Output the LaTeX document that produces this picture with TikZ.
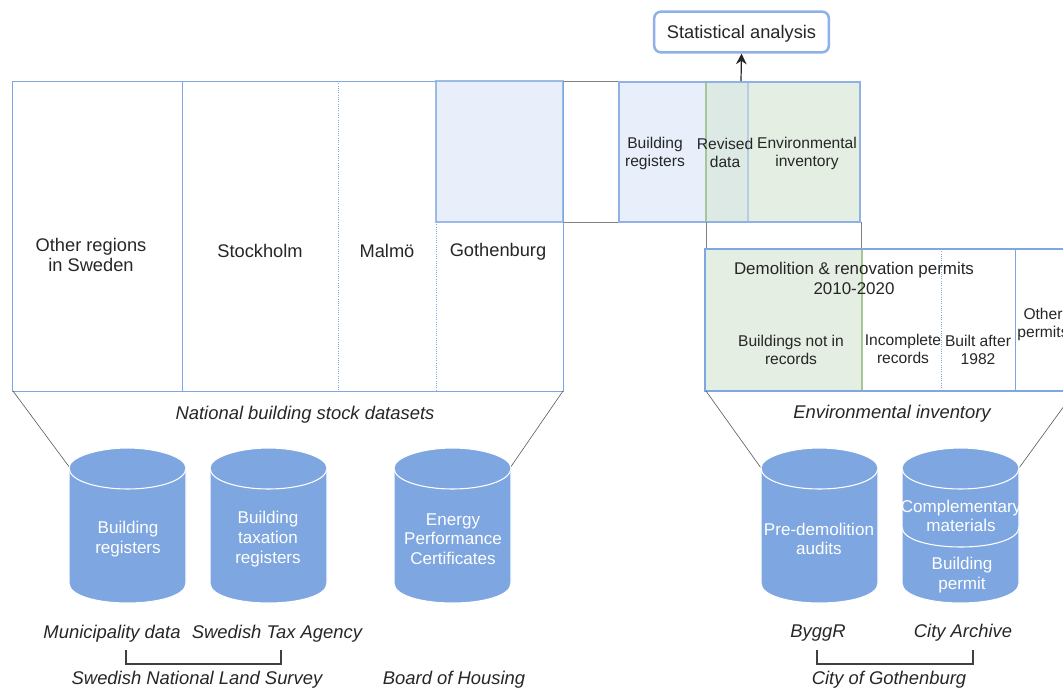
\documentclass[tikz,border=0pt]{standalone}
\usepackage{fontspec}
\setmainfont{Liberation Sans}
\usetikzlibrary{arrows.meta}
\definecolor{bluest}{HTML}{7EA6E0}
\definecolor{bluethick}{HTML}{8FB1E6}
\definecolor{bluefill}{HTML}{E8EFFB}
\definecolor{greenst}{HTML}{A3C795}
\definecolor{greenfill}{HTML}{E4EEE2}
\definecolor{overlapfill}{HTML}{DCE9E4}
\definecolor{ink}{HTML}{262626}
\definecolor{rulegray}{HTML}{808080}
\tikzset{
  bigtext/.style={font=\fontsize{13.7pt}{15.5pt}\selectfont,text=ink,align=center,inner sep=0pt},
  midtext/.style={font=\fontsize{12.7pt}{15pt}\selectfont,text=ink,align=center,inner sep=0pt},
  smalltext/.style={font=\fontsize{11.7pt}{13.5pt}\selectfont,text=ink,align=center,inner sep=0pt},
  captext/.style={font=\fontsize{13.8pt}{15pt}\itshape\selectfont,text=ink,align=center,inner sep=0pt},
  cyltext/.style={font=\fontsize{12.8pt}{14.8pt}\selectfont,text=white,align=center,inner sep=0pt},
  thinblue/.style={draw=bluest,line width=0.7pt},
  dotblue/.style={draw=bluest,line width=0.7pt,densely dotted},
  linkline/.style={draw=rulegray,line width=0.7pt},
  funnel/.style={draw=black!65,line width=0.45pt},
  bracket/.style={draw=black!75,line width=0.8pt},
  cylbody/.style={fill=bluest,draw=white,line width=0.8pt},
}
\newcommand{\drawcyl}[1]{%
  \draw[cylbody] (#1,468) -- (#1+117,468) -- (#1+117,583)
     .. controls (#1+117,596) and (#1+88,603) .. (#1+58.5,603)
     .. controls (#1+29,603) and (#1,596) .. (#1,583) -- cycle;
  \draw[cylbody] (#1,468) .. controls (#1,457) and (#1+29,448) .. (#1+58.5,448)
     .. controls (#1+88,448) and (#1+117,457) .. (#1+117,468)
     .. controls (#1+117,481) and (#1+88,489) .. (#1+58.5,489)
     .. controls (#1+29,489) and (#1,481) .. (#1,468) -- cycle;
}
\begin{document}
\begin{tikzpicture}[x=0.75pt,y=-0.75pt]
\useasboundingbox (0,0) rectangle (1063,690);
\clip (0,0) rectangle (1063,690);
% named corners
\coordinate (bigBL) at (13,391);
\coordinate (bigBR) at (563,391);
\coordinate (envBL) at (706,391);
\coordinate (envBR) at (1075,391);
\coordinate (cylA) at (70,468);
\coordinate (cylC) at (510,468);
\coordinate (cylD) at (761,468);
\coordinate (cylE) at (1019,468);
% national stock
\draw[thinblue] (12.5,81.5) rectangle (563.5,391.5);
\draw[thinblue] (182.5,81.5) -- (182.5,391.5);
\draw[dotblue] (338,81) -- (338,391);
\draw[dotblue] (436,222) -- (436,391);
\draw[linkline] (563,81) -- (619,81) (563,222) -- (619,222);
\fill[bluefill] (436,81) rectangle (563,222);
\draw[draw=bluest,line width=0.9pt,draw opacity=.75] (436,81) rectangle (563,222);
% combined box
\fill[bluefill] (619,82) rectangle (706,222);
\fill[overlapfill] (706,82) rectangle (748,222);
\fill[greenfill] (748,82) rectangle (861,222);
\draw[draw=greenst,line width=1.3pt] (706,82) -- (706,222);
\draw[draw=bluest!45!greenfill,line width=1.1pt] (748,82) -- (748,222);
\draw[draw=bluethick,line width=1.9pt] (619,82) rectangle (860,222);
\draw[linkline] (706,222) -- (706,249) (861,222) -- (861,249);
% environmental inventory
\fill[greenfill] (705,249) rectangle (862,391);
\draw[draw=greenst,line width=1.2pt] (862,249) -- (862,391);
\draw[thinblue,line width=0.9pt] (1080,249) -- (705,249) -- (705,391) -- (1080,391);
\draw[dotblue] (941,249) -- (941,391);
\draw[thinblue] (1015.5,249) -- (1015.5,391);
% funnels
\draw[funnel] (bigBL) -- (cylA) (bigBR) -- (cylC) (envBL) -- (cylD) (envBR) -- (cylE);
% cylinders
\drawcyl{69}\drawcyl{210}\drawcyl{394}\drawcyl{761}\drawcyl{902}
\draw[draw=white,line width=0.8pt] (902,527) .. controls (902,540) and (931,547) .. (961,547) .. controls (990,547) and (1019,540) .. (1019,527);
% statistical analysis
\node[draw=bluethick,fill=white,line width=1.9pt,rounded corners=5pt,minimum width=131pt,minimum height=30.5pt,bigtext,text height=10pt,text depth=0pt] (stat) at (741.5,32) {Statistical analysis};
\coordinate (statfoot) at (741,81);
\draw[-{Stealth[length=8pt,width=8pt]},draw=black!85,line width=0.9pt] (statfoot) -- (stat.south);
% labels in boxes
\node[bigtext] (t1) at (91,255) {Other regions\\in Sweden};
\node[bigtext] (t2) at (260,251) {Stockholm};
\node[bigtext] (t3) at (387,251) {Malmö};
\node[bigtext] (t4) at (498,252) {Gothenburg};
\node[smalltext] (t5) at (655,153) {Building\\registers};
\node[smalltext] (t6) at (725,153) {Revised\\data};
\node[smalltext] (t7) at (807,153) {Environmental\\inventory};
\node[midtext] (t8) at (854,278) {Demolition \& renovation permits\\2010-2020};
\node[smalltext] (t9) at (791,350) {Buildings not in\\records};
\node[smalltext] (t10) at (903,349) {Incomplete\\records};
\node[smalltext] (t11) at (978,350) {Built after\\1982};
\node[smalltext] (t12) at (1043,324) {Other\\permits};
% captions
\node[captext] (c1) at (305,415) {National building stock datasets};
\node[captext] (c2) at (892,414) {Environmental inventory};
% cylinder labels
\node[cyltext] (l1) at (128,539) {Building\\registers};
\node[cyltext] (l2) at (268,539) {Building\\taxation\\registers};
\node[cyltext] (l3) at (453,539) {Energy\\Performance\\Certificates};
\node[cyltext] (l4) at (819,539) {Pre-demolition\\audits};
\node[cyltext] (l5) at (961,516) {Complementary\\materials};
\node[cyltext] (l6) at (962,575) {Building\\permit};
% sources
\node[captext] (s1) at (112,634) {Municipality data};
\node[captext] (s2) at (277,634) {Swedish Tax Agency};
\node[captext] (s3) at (197,680) {Swedish National Land Survey};
\node[captext] (s4) at (454,680) {Board of Housing};
\node[captext] (s5) at (818,633) {ByggR};
\node[captext] (s6) at (963,633) {City Archive};
\node[captext] (s7) at (889,680) {City of Gothenburg};
% brackets
\coordinate (b1a) at (126,650);
\coordinate (b1b) at (281,650);
\coordinate (b2a) at (817,650);
\coordinate (b2b) at (973,650);
\draw[bracket] (b1a) -- ++(0,14) -| (b1b);
\draw[bracket] (b2a) -- ++(0,14) -| (b2b);
\end{tikzpicture}
\end{document}
